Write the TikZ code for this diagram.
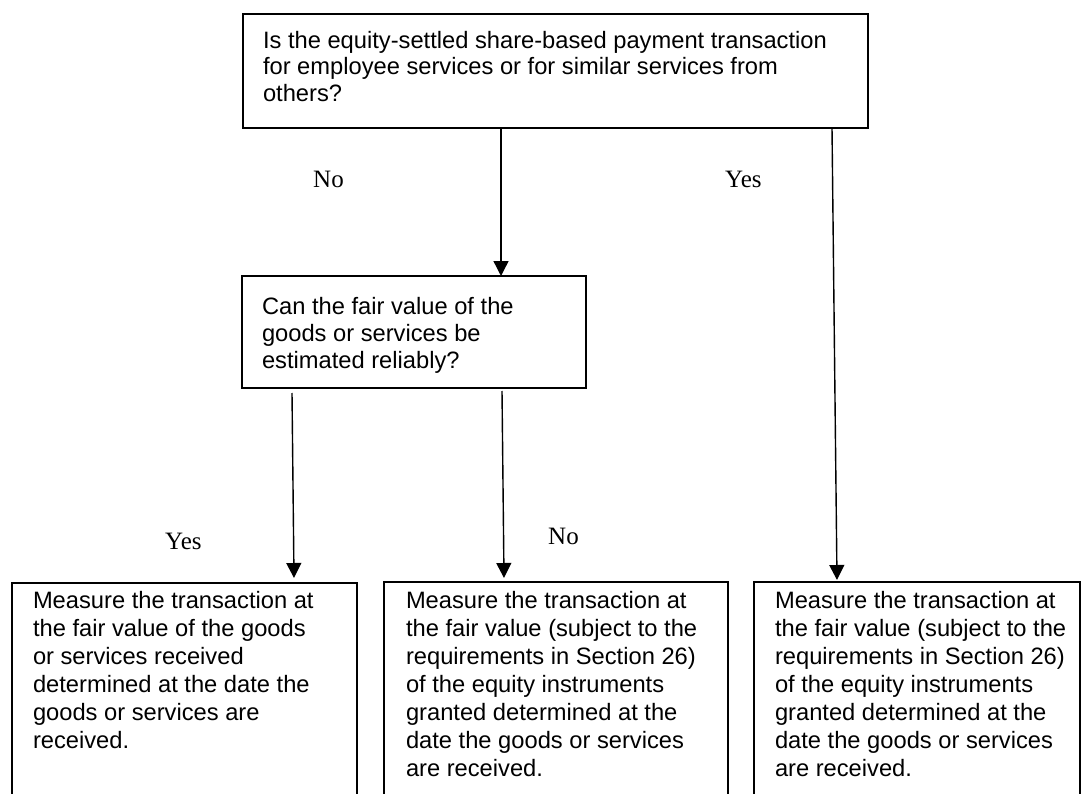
\documentclass[tikz,border=0pt]{standalone}
\usepackage{fontspec}
\setmainfont{Liberation Sans}
\newfontfamily\lblfont{Liberation Serif}
\usetikzlibrary{arrows.meta}
\newcommand\boxtext[2]{\parbox[t]{700pt}{\fontsize{23.7}{#1}\selectfont\raggedright #2}}
\tikzset{
  box/.style={draw, line width=1.4pt, rectangle, inner sep=0pt, outer sep=0pt, anchor=north west},
  txt/.style={anchor=base west, inner sep=0pt, outer sep=0pt},
  lbl/.style={anchor=base west, inner sep=0pt, font=\lblfont\fontsize{25}{30}\selectfont},
  arr/.style={line width=1.4pt, -{Triangle[width=15pt,length=15pt]}},
}
\begin{document}
\begin{tikzpicture}[x=1pt,y=-1pt]
\useasboundingbox (0,0) rectangle (1083,794);
\clip (0,0) rectangle (1083,794);
% boxes
\node[box, minimum width=625pt, minimum height=114pt] (q1) at (243,14) {};
\node[box, minimum width=344pt, minimum height=112pt] (q2) at (242,276) {};
\node[box, minimum width=345pt, minimum height=260pt] (b1) at (12,583) {};
\node[box, minimum width=344pt, minimum height=260pt] (b2) at (384,582) {};
\node[box, minimum width=326pt, minimum height=260pt] (b3) at (754,582) {};
% texts
\node[txt] (q1t) at (263,48.5) {\boxtext{26.5}{Is the equity-settled share-based payment transaction\\ for employee services or for similar services from\\ others?}};
\node[txt] (q2t) at (262,314) {\boxtext{27}{Can the fair value of the\\ goods or services be\\ estimated reliably?}};
\node[txt] (b1t) at (33,608) {\boxtext{28}{Measure the transaction at\\ the fair value of the goods\\ or services received\\ determined at the date the\\ goods or services are\\ received.}};
\node[txt] (b2t) at (406,608) {\boxtext{28}{Measure the transaction at\\ the fair value (subject to the\\ requirements in Section 26)\\ of the equity instruments\\ granted determined at the\\ date the goods or services\\ are received.}};
\node[txt] (b3t) at (775,608) {\boxtext{28}{Measure the transaction at\\ the fair value (subject to the\\ requirements in Section 26)\\ of the equity instruments\\ granted determined at the\\ date the goods or services\\ are received.}};
% connectors
\draw[arr] ([xshift=258pt]q1.south west) -- ([xshift=259pt]q2.north west);
\draw[arr] ([xshift=589pt]q1.south west) -- ([shift={(83pt,2pt)}]b3.north west);
\draw[arr] ([shift={(50pt,-5pt)}]q2.south west) -- ([shift={(282pt,5pt)}]b1.north west);
\draw[arr] ([shift={(260pt,-3pt)}]q2.south west) -- ([shift={(120pt,4pt)}]b2.north west);
% labels
\node[lbl] (no1) at (313,188) {No};
\node[lbl] (yes1) at (725,188) {Yes};
\node[lbl] (yes2) at (165,549) {Yes};
\node[lbl] (no2) at (548,544) {No};
\end{tikzpicture}
\end{document}
